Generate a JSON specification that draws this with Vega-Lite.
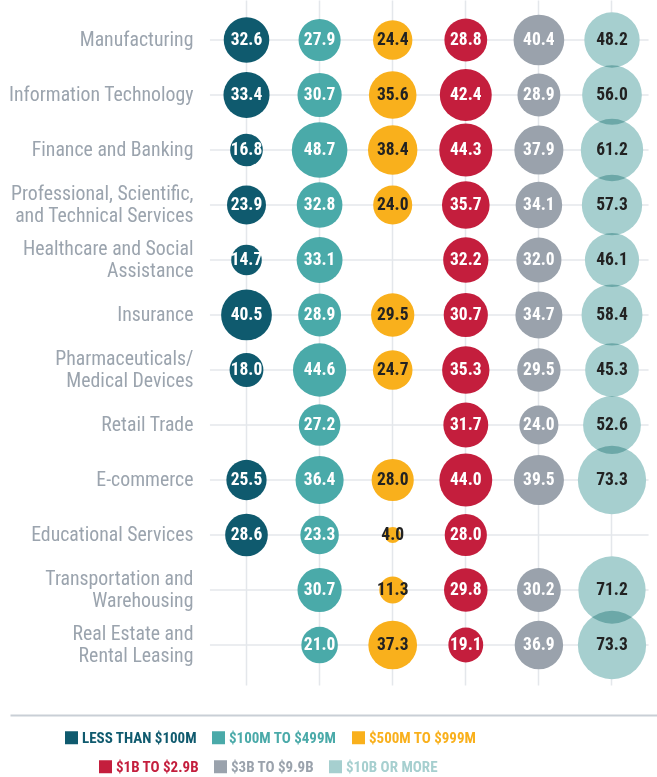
{
  "$schema": "https://vega.github.io/schema/vega-lite/v6.json",
  "width": 647,
  "height": 685,
  "autosize": "none",
  "padding": {"left": 10, "top": 0, "right": 0, "bottom": 92},
  "config": {"view": {"stroke": null}, "font": "Roboto Condensed, Liberation Sans Narrow, DejaVu Sans Condensed, Roboto, sans-serif"},
  "datasets": {
    "d": [
      {"industry": "Manufacturing", "size": "LESS THAN $100M", "value": 32.6},
      {"industry": "Manufacturing", "size": "$100M TO $499M", "value": 27.9},
      {"industry": "Manufacturing", "size": "$500M TO $999M", "value": 24.4},
      {"industry": "Manufacturing", "size": "$1B TO $2.9B", "value": 28.8},
      {"industry": "Manufacturing", "size": "$3B TO $9.9B", "value": 40.4},
      {"industry": "Manufacturing", "size": "$10B OR MORE", "value": 48.2},
      {"industry": "Information Technology", "size": "LESS THAN $100M", "value": 33.4},
      {"industry": "Information Technology", "size": "$100M TO $499M", "value": 30.7},
      {"industry": "Information Technology", "size": "$500M TO $999M", "value": 35.6},
      {"industry": "Information Technology", "size": "$1B TO $2.9B", "value": 42.4},
      {"industry": "Information Technology", "size": "$3B TO $9.9B", "value": 28.9},
      {"industry": "Information Technology", "size": "$10B OR MORE", "value": 56.0},
      {"industry": "Finance and Banking", "size": "LESS THAN $100M", "value": 16.8},
      {"industry": "Finance and Banking", "size": "$100M TO $499M", "value": 48.7},
      {"industry": "Finance and Banking", "size": "$500M TO $999M", "value": 38.4},
      {"industry": "Finance and Banking", "size": "$1B TO $2.9B", "value": 44.3},
      {"industry": "Finance and Banking", "size": "$3B TO $9.9B", "value": 37.9},
      {"industry": "Finance and Banking", "size": "$10B OR MORE", "value": 61.2},
      {"industry": "Professional, Scientific,|and Technical Services", "size": "LESS THAN $100M", "value": 23.9},
      {"industry": "Professional, Scientific,|and Technical Services", "size": "$100M TO $499M", "value": 32.8},
      {"industry": "Professional, Scientific,|and Technical Services", "size": "$500M TO $999M", "value": 24.0},
      {"industry": "Professional, Scientific,|and Technical Services", "size": "$1B TO $2.9B", "value": 35.7},
      {"industry": "Professional, Scientific,|and Technical Services", "size": "$3B TO $9.9B", "value": 34.1},
      {"industry": "Professional, Scientific,|and Technical Services", "size": "$10B OR MORE", "value": 57.3},
      {"industry": "Healthcare and Social|Assistance", "size": "LESS THAN $100M", "value": 14.7},
      {"industry": "Healthcare and Social|Assistance", "size": "$100M TO $499M", "value": 33.1},
      {"industry": "Healthcare and Social|Assistance", "size": "$1B TO $2.9B", "value": 32.2},
      {"industry": "Healthcare and Social|Assistance", "size": "$3B TO $9.9B", "value": 32.0},
      {"industry": "Healthcare and Social|Assistance", "size": "$10B OR MORE", "value": 46.1},
      {"industry": "Insurance", "size": "LESS THAN $100M", "value": 40.5},
      {"industry": "Insurance", "size": "$100M TO $499M", "value": 28.9},
      {"industry": "Insurance", "size": "$500M TO $999M", "value": 29.5},
      {"industry": "Insurance", "size": "$1B TO $2.9B", "value": 30.7},
      {"industry": "Insurance", "size": "$3B TO $9.9B", "value": 34.7},
      {"industry": "Insurance", "size": "$10B OR MORE", "value": 58.4},
      {"industry": "Pharmaceuticals/|Medical Devices", "size": "LESS THAN $100M", "value": 18.0},
      {"industry": "Pharmaceuticals/|Medical Devices", "size": "$100M TO $499M", "value": 44.6},
      {"industry": "Pharmaceuticals/|Medical Devices", "size": "$500M TO $999M", "value": 24.7},
      {"industry": "Pharmaceuticals/|Medical Devices", "size": "$1B TO $2.9B", "value": 35.3},
      {"industry": "Pharmaceuticals/|Medical Devices", "size": "$3B TO $9.9B", "value": 29.5},
      {"industry": "Pharmaceuticals/|Medical Devices", "size": "$10B OR MORE", "value": 45.3},
      {"industry": "Retail Trade", "size": "$100M TO $499M", "value": 27.2},
      {"industry": "Retail Trade", "size": "$1B TO $2.9B", "value": 31.7},
      {"industry": "Retail Trade", "size": "$3B TO $9.9B", "value": 24.0},
      {"industry": "Retail Trade", "size": "$10B OR MORE", "value": 52.6},
      {"industry": "E-commerce", "size": "LESS THAN $100M", "value": 25.5},
      {"industry": "E-commerce", "size": "$100M TO $499M", "value": 36.4},
      {"industry": "E-commerce", "size": "$500M TO $999M", "value": 28.0},
      {"industry": "E-commerce", "size": "$1B TO $2.9B", "value": 44.0},
      {"industry": "E-commerce", "size": "$3B TO $9.9B", "value": 39.5},
      {"industry": "E-commerce", "size": "$10B OR MORE", "value": 73.3},
      {"industry": "Educational Services", "size": "LESS THAN $100M", "value": 28.6},
      {"industry": "Educational Services", "size": "$100M TO $499M", "value": 23.3},
      {"industry": "Educational Services", "size": "$500M TO $999M", "value": 4.0},
      {"industry": "Educational Services", "size": "$1B TO $2.9B", "value": 28.0},
      {"industry": "Transportation and|Warehousing", "size": "$100M TO $499M", "value": 30.7},
      {"industry": "Transportation and|Warehousing", "size": "$500M TO $999M", "value": 11.3},
      {"industry": "Transportation and|Warehousing", "size": "$1B TO $2.9B", "value": 29.8},
      {"industry": "Transportation and|Warehousing", "size": "$3B TO $9.9B", "value": 30.2},
      {"industry": "Transportation and|Warehousing", "size": "$10B OR MORE", "value": 71.2},
      {"industry": "Real Estate and|Rental Leasing", "size": "$100M TO $499M", "value": 21.0},
      {"industry": "Real Estate and|Rental Leasing", "size": "$500M TO $999M", "value": 37.3},
      {"industry": "Real Estate and|Rental Leasing", "size": "$1B TO $2.9B", "value": 19.1},
      {"industry": "Real Estate and|Rental Leasing", "size": "$3B TO $9.9B", "value": 36.9},
      {"industry": "Real Estate and|Rental Leasing", "size": "$10B OR MORE", "value": 73.3}
    ]
  },
  "data": {"name": "d"},
  "encoding": {
    "y": {
      "field": "industry",
      "type": "nominal",
      "title": null,
      "scale": {
        "domain": ["Manufacturing", "Information Technology", "Finance and Banking", "Professional, Scientific,|and Technical Services", "Healthcare and Social|Assistance", "Insurance", "Pharmaceuticals/|Medical Devices", "Retail Trade", "E-commerce", "Educational Services", "Transportation and|Warehousing", "Real Estate and|Rental Leasing"],
        "paddingInner": 0,
        "paddingOuter": 0.227
      },
      "axis": {
        "orient": "left",
        "offset": -199.95,
        "ticks": false,
        "domain": false,
        "grid": false,
        "labelPadding": 17,
        "labelFontSize": 19.8,
        "labelColor": "#9ba4ae",
        "labelExpr": "split(datum.label, '|')",
        "labelLineHeight": 22,
        "labelOffset": {"condition": {"test": "indexof(datum.value, '|') >= 0", "value": -11}, "value": 0},
        "labelLimit": 300
      }
    }
  },
  "layer": [
    {
      "transform": [{"aggregate": [], "groupby": ["industry"]}],
      "mark": {"type": "rule", "color": "#e4e7eb", "strokeWidth": 1.5},
      "encoding": {
        "x": {"datum": "LESS THAN $100M", "type": "nominal", "bandPosition": 0},
        "x2": {"datum": "$10B OR MORE", "bandPosition": 1}
      }
    },
    {
      "mark": {"type": "circle", "fill": "white", "opacity": 1, "stroke": null},
      "encoding": {
        "x": {
          "field": "size",
          "type": "nominal",
          "title": null,
          "scale": {
            "domain": ["_pad1", "_pad2", "LESS THAN $100M", "$100M TO $499M", "$500M TO $999M", "$1B TO $2.9B", "$3B TO $9.9B", "$10B OR MORE"],
            "paddingInner": 0,
            "paddingOuter": 0.4255,
            "align": 0.864
          },
          "axis": {
            "orient": "bottom",
            "offset": 30,
            "values": ["LESS THAN $100M", "$100M TO $499M", "$500M TO $999M", "$1B TO $2.9B", "$3B TO $9.9B", "$10B OR MORE"],
            "labels": false,
            "ticks": false,
            "domain": true,
            "domainColor": "#c9cfd6",
            "domainWidth": 2,
            "grid": true,
            "gridColor": "#e4e7eb",
            "gridWidth": 1.5,
            "bandPosition": 0.5
          }
        },
        "size": {"field": "value", "type": "quantitative", "scale": {"domain": [0, 75], "range": [0, 4770]}, "legend": null}
      }
    },
    {
      "transform": [{"filter": "indexof(['LESS THAN $100M', '$100M TO $499M', '$500M TO $999M'], datum.size) >= 0"}],
      "mark": {"type": "circle", "opacity": 1, "blend": "multiply"},
      "encoding": {
        "x": {"field": "size", "type": "nominal"},
        "size": {"field": "value", "type": "quantitative", "legend": null},
        "color": {
          "field": "size",
          "type": "nominal",
          "scale": {"domain": ["LESS THAN $100M", "$100M TO $499M", "$500M TO $999M"], "range": ["#0f5a6e", "#4aaaa9", "#f9b01c"]},
          "legend": {
            "title": null,
            "orient": "none",
            "legendX": 54,
            "legendY": 730,
            "direction": "horizontal",
            "columns": 3,
            "padding": 0,
            "symbolType": "square",
            "symbolSize": 169,
            "symbolOpacity": 1,
            "labelFontSize": 15,
            "labelFontWeight": "bold",
            "labelOffset": 3,
            "columnPadding": 14,
            "labelLimit": 300,
            "encode": {"labels": {"update": {"fill": {"signal": "datum.value === 'LESS THAN $100M' ? '#0f5a6e' : datum.value === '$100M TO $499M' ? '#4aaaa9' : '#f9b01c'"}}}}
          }
        }
      }
    },
    {
      "transform": [{"filter": "indexof(['$1B TO $2.9B', '$3B TO $9.9B', '$10B OR MORE'], datum.size) >= 0"}],
      "mark": {"type": "circle", "opacity": 1, "blend": "multiply"},
      "encoding": {
        "x": {"field": "size", "type": "nominal"},
        "size": {"field": "value", "type": "quantitative", "legend": null},
        "color": {
          "field": "size",
          "type": "nominal",
          "scale": {"domain": ["$1B TO $2.9B", "$3B TO $9.9B", "$10B OR MORE"], "range": ["#c41e3d", "#9aa2ac", "#a6cfcf"]},
          "legend": {
            "title": null,
            "orient": "none",
            "legendX": 88,
            "legendY": 759,
            "direction": "horizontal",
            "columns": 3,
            "padding": 0,
            "symbolType": "square",
            "symbolSize": 169,
            "symbolOpacity": 1,
            "labelFontSize": 15,
            "labelFontWeight": "bold",
            "labelOffset": 3,
            "columnPadding": 14,
            "labelLimit": 300,
            "encode": {"labels": {"update": {"fill": {"signal": "datum.value === '$1B TO $2.9B' ? '#c41e3d' : datum.value === '$3B TO $9.9B' ? '#9aa2ac' : '#a6cfcf'"}}}}
          }
        }
      }
    },
    {
      "mark": {"type": "text", "fontWeight": "bold", "fontSize": 17.5, "baseline": "middle", "align": "center"},
      "encoding": {
        "x": {"field": "size", "type": "nominal"},
        "text": {"field": "value", "type": "quantitative", "format": ".1f"},
        "color": {
          "condition": {"test": "datum.size === '$500M TO $999M' || datum.size === '$10B OR MORE'", "value": "#222222"},
          "value": "#ffffff"
        }
      }
    }
  ],
  "resolve": {"scale": {"color": "independent"}, "legend": {"color": "independent"}}
}
